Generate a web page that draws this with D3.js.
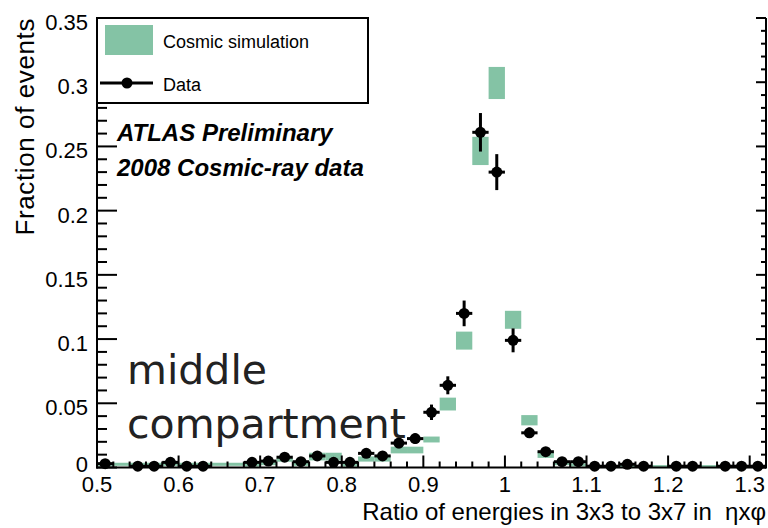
<!DOCTYPE html>
<html><head><meta charset="utf-8">
<script src="https://cdn.jsdelivr.net/npm/d3@7"></script>
<style>
html,body{margin:0;padding:0;background:#fff;}
svg{display:block;}
text{white-space:pre;}
</style></head>
<body>
<script>
// ---- data ----
const dataX   = [0.51,0.55,0.57,0.59,0.61,0.63,0.69,0.71,0.73,0.75,0.77,0.79,0.81,0.83,0.85,0.87,0.89,0.91,0.93,0.95,0.97,0.99,1.01,1.03,1.05,1.07,1.09,1.11,1.13,1.15,1.17,1.21,1.23,1.27,1.29,1.31];
const dataY   = [0.003,0.001,0.001,0.004,0.001,0.001,0.004,0.005,0.008,0.0045,0.009,0.004,0.004,0.011,0.009,0.019,0.0225,0.043,0.064,0.120,0.261,0.230,0.099,0.027,0.0123,0.0045,0.0045,0.001,0.001,0.0025,0.001,0.001,0.001,0.001,0.001,0.001];
const dataErr = [0.002,0.001,0.001,0.002,0.001,0.001,0.002,0.002,0.003,0.002,0.003,0.002,0.002,0.003,0.003,0.004,0.004,0.006,0.007,0.010,0.015,0.014,0.0093,0.004,0.003,0.002,0.002,0.001,0.001,0.0015,0.001,0.001,0.001,0.001,0.001,0.001];

const simX   = [0.51,0.53,0.55,0.57,0.59,0.61,0.63,0.65,0.67,0.69,0.71,0.73,0.75,0.77,0.79,0.81,0.83,0.85,0.87,0.89,0.91,0.93,0.95,0.97,0.99,1.01,1.03,1.05,1.07,1.09,1.11,1.13,1.15,1.17,1.19,1.21,1.23,1.25,1.27,1.29,1.31];
const simY   = [0.0025,0.0025,0.0025,0.0025,0.0025,0.0025,0.0025,0.0025,0.0025,0.002,0.003,0.006,0.0025,0.0085,0.0085,0.002,0.0066,0.0066,0.0136,0.0136,0.0218,0.0494,0.0988,0.2465,0.2994,0.115,0.0368,0.010,0.003,0.002,0.0007,0.0007,0.0007,0.0007,0.0007,0.0007,0.0007,0.0007,0.0007,0.0007,0.0007];
const simErr = [0.0012,0.0012,0.0012,0.0012,0.0012,0.0012,0.0012,0.0012,0.0012,0.0012,0.0012,0.0015,0.0012,0.003,0.003,0.0012,0.002,0.002,0.0026,0.0026,0.0023,0.005,0.007,0.011,0.0125,0.007,0.004,0.0025,0.0012,0.0012,0.0008,0.0008,0.0008,0.0008,0.0008,0.0008,0.0008,0.0008,0.0008,0.0008,0.0008];
const binWidth = 0.02;

const xMajor = [0.5,0.6,0.7,0.8,0.9,1.0,1.1,1.2,1.3];
const xMajorLabels = ["0.5","0.6","0.7","0.8","0.9","1","1.1","1.2","1.3"];
const yMajor = [0,0.05,0.1,0.15,0.2,0.25,0.3,0.35];
const yMajorLabels = ["0","0.05","0.1","0.15","0.2","0.25","0.3","0.35"];

const legendLabels = ["Cosmic simulation","Data"];
const atlasLines = ["ATLAS Preliminary","2008 Cosmic-ray data"];
const noteLines = ["middle","compartment"];
const xTitle = "Ratio of energies in 3x3 to 3x7 in  \u03b7x\u03c6";
const yTitle = "Fraction of events";

// ---- layout ----
const W = 768, H = 528;
const L = 97, R = 766, T = 18, B = 467.5;
const green = "#84c3a5";
const font = "'Liberation Sans', Arial, Helvetica, sans-serif";

const svg = d3.select("body").append("svg").attr("width", W).attr("height", H);
const x = d3.scaleLinear().domain([0.5, 1.32]).range([L, R]);
const y = d3.scaleLinear().domain([0, 0.35]).range([B, T]);

// simulation bands
svg.append("g").selectAll("rect").data(simX.map((c,i)=>({c, v:simY[i], e:simErr[i]})))
  .join("rect")
  .attr("x", d => x(d.c - binWidth/2))
  .attr("width", d => x(d.c + binWidth/2) - x(d.c - binWidth/2))
  .attr("y", d => { const h = Math.max(y(d.v - d.e) - y(d.v + d.e), 3); return y(d.v) - h/2; })
  .attr("height", d => Math.max(y(d.v - d.e) - y(d.v + d.e), 3))
  .attr("fill", green);

// data points
const pts = dataX.map((c,i)=>({c, v:dataY[i], e:dataErr[i]}));
const gd = svg.append("g");
gd.selectAll("line.h").data(pts).join("line").attr("class","h")
  .attr("x1", d => x(d.c - binWidth/2)).attr("x2", d => x(d.c + binWidth/2))
  .attr("y1", d => y(d.v)).attr("y2", d => y(d.v))
  .attr("stroke", "#000").attr("stroke-width", 3);
gd.selectAll("line.v").data(pts).join("line").attr("class","v")
  .attr("x1", d => x(d.c)).attr("x2", d => x(d.c))
  .attr("y1", d => y(Math.max(d.v - d.e, 0))).attr("y2", d => y(d.v + d.e))
  .attr("stroke", "#000").attr("stroke-width", 3);
gd.selectAll("circle").data(pts).join("circle")
  .attr("cx", d => x(d.c)).attr("cy", d => y(d.v)).attr("r", 5.5).attr("fill", "#000");

// axes frame and ticks
const ax = svg.append("g").attr("stroke", "#000").attr("stroke-width", 2);
ax.append("line").attr("x1", L).attr("x2", L).attr("y1", T).attr("y2", B+1);
ax.append("line").attr("x1", L-1).attr("x2", R).attr("y1", B).attr("y2", B);
ax.append("line").attr("x1", R).attr("x2", R).attr("y1", T).attr("y2", B+1);

const yMinor = d3.range(0, 0.3501, 0.01);
const xMinor = d3.range(0.5, 1.3201, 0.02);
yMinor.forEach(v => {
  const isMaj = yMajor.some(m => Math.abs(m - v) < 1e-6);
  ax.append("line").attr("x1", L).attr("x2", L + (isMaj ? 20 : 10)).attr("y1", y(v)).attr("y2", y(v));
  ax.append("line").attr("x1", R).attr("x2", R - (isMaj ? 10 : 5)).attr("y1", y(v)).attr("y2", y(v));
});
xMinor.forEach(v => {
  const isMaj = xMajor.some(m => Math.abs(m - v) < 1e-6);
  ax.append("line").attr("x1", x(v)).attr("x2", x(v)).attr("y1", B).attr("y2", B - (isMaj ? 12 : 6));
});

// tick labels
svg.append("g").selectAll("text").data(yMajor).join("text")
  .attr("x", 88).attr("y", d => y(d) + (d === 0 ? 4 : 12))
  .attr("text-anchor", "end").attr("font-family", font).attr("font-size", 22)
  .text((d,i) => yMajorLabels[i]);
svg.append("g").selectAll("text").data(xMajor).join("text")
  .attr("x", d => x(d)).attr("y", 492)
  .attr("text-anchor", "middle").attr("font-family", font).attr("font-size", 22)
  .text((d,i) => xMajorLabels[i]);

// axis titles
svg.append("text").attr("x", R).attr("y", 520).attr("text-anchor", "end")
  .attr("font-family", font).attr("font-size", 24).text(xTitle);
svg.append("text").attr("transform", `translate(34,${T}) rotate(-90)`).attr("text-anchor", "end")
  .attr("font-family", font).attr("font-size", 26).attr("letter-spacing", 0.6).text(yTitle);

// legend
const lg = svg.append("g");
lg.append("rect").attr("x", L).attr("y", T).attr("width", 368 - L).attr("height", 103 - T)
  .attr("fill", "#fff").attr("stroke", "#000").attr("stroke-width", 2);
lg.append("rect").attr("x", 105).attr("y", 25).attr("width", 48).attr("height", 30).attr("fill", green);
lg.append("line").attr("x1", 100).attr("x2", 153).attr("y1", 83).attr("y2", 83).attr("stroke", "#000").attr("stroke-width", 3);
lg.append("circle").attr("cx", 127).attr("cy", 83).attr("r", 5.5).attr("fill", "#000");
lg.selectAll("text.l").data(legendLabels).join("text").attr("class","l")
  .attr("x", 163).attr("y", (d,i) => i === 0 ? 48 : 91)
  .attr("font-family", font).attr("font-size", 18).text(d => d);

// ATLAS label
svg.append("g").selectAll("text").data(atlasLines).join("text")
  .attr("x", 117).attr("y", (d,i) => 141 + i*35)
  .attr("font-family", font).attr("font-size", 24).attr("font-weight", "bold").attr("font-style", "italic")
  .text(d => d);

// note
svg.append("g").selectAll("text").data(noteLines).join("text")
  .attr("x", 127).attr("y", (d,i) => 384 + i*54)
  .attr("font-family", "'DejaVu Sans', sans-serif").attr("font-size", 41).attr("fill", "#222")
  .text(d => d);
</script>
</body></html>
